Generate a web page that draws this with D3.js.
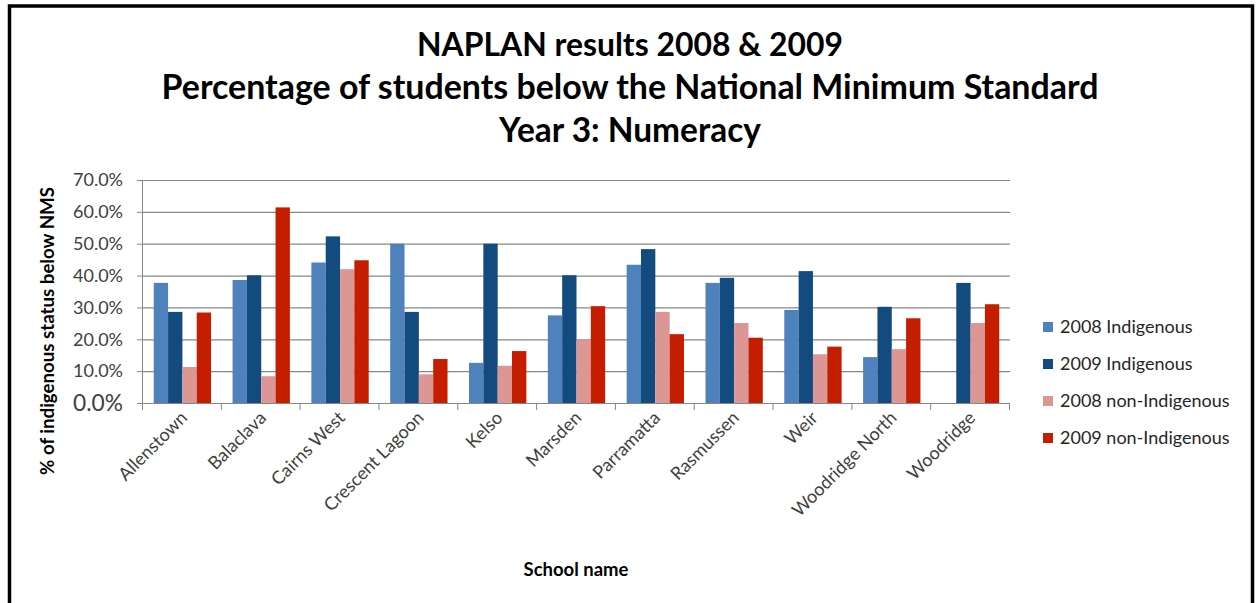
<!DOCTYPE html>
<html>
<head>
<meta charset="utf-8">
<script src="https://cdn.jsdelivr.net/npm/d3@7"></script>
<style>
  body { margin: 0; background: #fff; }
  svg { display: block; }
  text { font-family: "Lato", "Liberation Sans", sans-serif; }
</style>
</head>
<body>
<svg id="chart" width="1259" height="603"></svg>
<script>
// schools along the x axis
const schools = ['Allenstown', 'Balaclava', 'Cairns West', 'Crescent Lagoon', 'Kelso',
  'Marsden', 'Parramatta', 'Rasmussen', 'Weir', 'Woodridge North', 'Woodridge'];

const seriesNames = ['2008 Indigenous', '2009 Indigenous', '2008 non-Indigenous', '2009 non-Indigenous'];
const seriesColors = ['#4f81bd', '#134b7f', '#dc9694', '#c41d00'];

// % below NMS (null = no bar)
const indig2008 = [37.7, 38.6, 44.1, 50.0, 12.6, 27.5, 43.4, 37.7, 29.2, 14.4, null];
const indig2009 = [28.6, 40.1, 52.3, 28.6, 50.0, 40.1, 48.3, 39.3, 41.4, 30.2, 37.7];
const nonIndig2008 = [11.3, 8.4, 42.0, 9.0, 11.7, 20.0, 28.6, 25.1, 15.3, 16.9, 25.1];
const nonIndig2009 = [28.4, 61.4, 44.8, 13.8, 16.3, 30.4, 21.6, 20.5, 17.7, 26.6, 31.0];

const yTicks = [0, 0.1, 0.2, 0.3, 0.4, 0.5, 0.6, 0.7];

const titleLines = ['NAPLAN results 2008 & 2009',
  'Percentage of students below the National Minimum Standard',
  'Year 3: Numeracy'];

var config = {
  left: 143, right: 1010, top: 180, bottom: 403,
  gridColor: '#878787',
  textColor: '#404040'
};

var svg = d3.select('#chart');

// outer frame
svg.append('rect')
  .attr('x', 9.5).attr('y', 6)
  .attr('width', 1243).attr('height', 620)
  .attr('fill', 'none')
  .attr('stroke', '#000')
  .attr('stroke-width', 3.5);

// fit a text element to the width it has in the picture
function fitWidth(t, size, target) {
  t.style('font-size', size + 'px');
  var w = t.node().getComputedTextLength();
  t.style('font-size', (size * target / w).toFixed(2) + 'px');
}

// titles
const titleWidths = [426, 937, 262];
const titleBaselines = [56, 99, 142];
titleLines.forEach(function (line, i) {
  var t = svg.append('text')
    .attr('x', 630).attr('y', titleBaselines[i])
    .attr('text-anchor', 'middle')
    .style('font-weight', 'bold')
    .attr('fill', '#000')
    .text(line);
  fitWidth(t, 30, titleWidths[i]);
});

var x0 = d3.scaleBand()
  .domain(schools)
  .range([config.left, config.right]);

var x1 = d3.scaleBand()
  .domain(seriesNames)
  .range([0, x0.bandwidth()])
  .paddingOuter(0.75);

var y = d3.scaleLinear()
  .domain([0, 0.7])
  .range([config.bottom, config.top]);

// gridlines
svg.append('g')
  .selectAll('line')
  .data(yTicks.slice(1))
  .enter().append('line')
  .attr('x1', config.left).attr('x2', config.right)
  .attr('y1', d => y(d) + 0.5).attr('y2', d => y(d) + 0.5)
  .attr('stroke', config.gridColor)
  .attr('stroke-width', 1.2);

// bars
var allSeries = [indig2008, indig2009, nonIndig2008, nonIndig2009];
var rows = [];
schools.forEach(function (school, i) {
  allSeries.forEach(function (values, s) {
    if (values[i] != null) {
      rows.push({ school: school, series: seriesNames[s], color: seriesColors[s], value: values[i] / 100 });
    }
  });
});

svg.append('g')
  .selectAll('rect')
  .data(rows)
  .enter().append('rect')
  .attr('x', d => x0(d.school) + x1(d.series))
  .attr('y', d => y(d.value))
  .attr('width', x1.bandwidth())
  .attr('height', d => y(0) - y(d.value))
  .attr('fill', d => d.color);

// y axis
var yAxis = svg.append('g')
  .attr('transform', 'translate(' + config.left + ',0)')
  .call(d3.axisLeft(y).tickValues(yTicks).tickFormat(d3.format('.1%')).tickSize(6).tickPadding(14));
yAxis.select('.domain').attr('stroke', config.gridColor).attr('d', 'M-0.5,' + config.top + 'V' + (config.bottom + 0.5));
yAxis.selectAll('.tick line').attr('stroke', config.gridColor);
yAxis.selectAll('.tick text')
  .attr('fill', config.textColor)
  .each(function () { fitWidth(d3.select(this), 17, 50); });

// x axis
var xAxis = svg.append('g')
  .attr('transform', 'translate(0,' + config.bottom + ')')
  .call(d3.axisBottom(x0).tickSize(0).tickFormat(''));
xAxis.select('.domain').attr('stroke', config.gridColor).attr('d', 'M' + config.left + ',0.5H' + config.right);
xAxis.selectAll('.tick').remove();

var edges = schools.map(s => x0(s)).concat([config.right]);
xAxis.selectAll('line.sep')
  .data(edges)
  .enter().append('line')
  .attr('class', 'sep')
  .attr('x1', d => d - 0.5).attr('x2', d => d - 0.5)
  .attr('y1', 0).attr('y2', 7)
  .attr('stroke', config.gridColor);

svg.append('g')
  .selectAll('text')
  .data(schools)
  .enter().append('text')
  .attr('transform', d => 'translate(' + (x0(d) + x0.bandwidth() / 2 + 6) + ',' + (config.bottom + 16) + ') rotate(-45)')
  .attr('text-anchor', 'end')
  .attr('fill', config.textColor)
  .style('font-size', '18px')
  .text(d => d);

// axis titles
var yTitle = svg.append('text')
  .attr('transform', 'translate(54,331) rotate(-90)')
  .attr('text-anchor', 'middle')
  .style('font-weight', 'bold')
  .attr('fill', '#000')
  .text('% of indigenous status below NMS');
fitWidth(yTitle, 17, 288);

var xTitle = svg.append('text')
  .attr('x', 576).attr('y', 576)
  .attr('text-anchor', 'middle')
  .style('font-weight', 'bold')
  .attr('fill', '#000')
  .text('School name');
fitWidth(xTitle, 17, 105);

// legend
var legend = svg.append('g')
  .attr('transform', 'translate(1043,327)');
var item = legend.selectAll('g')
  .data(seriesNames)
  .enter().append('g')
  .attr('transform', (d, i) => 'translate(0,' + (i * 37) + ')');
item.append('rect')
  .attr('x', 0).attr('y', -5)
  .attr('width', 10).attr('height', 10)
  .attr('fill', (d, i) => seriesColors[i]);
item.append('text')
  .attr('x', 17).attr('y', 6)
  .attr('fill', '#262626')
  .style('font-size', '18px')
  .text(d => d);
</script>
</body>
</html>
